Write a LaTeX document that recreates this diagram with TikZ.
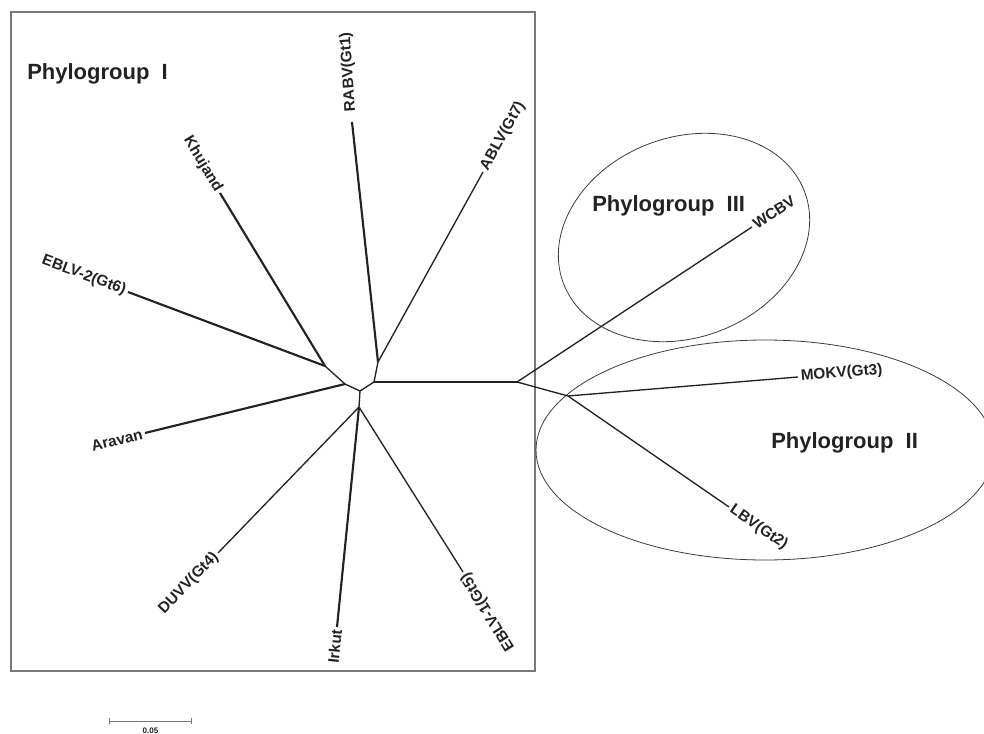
\documentclass[tikz,border=0pt]{standalone}
\usepackage{fontspec}
\setmainfont{Liberation Sans}
\usepackage{xcolor}
\usetikzlibrary{arrows.meta,calc}
\definecolor{treeink}{RGB}{34,34,34}
\definecolor{boxgray}{RGB}{120,120,120}
\definecolor{ringgray}{RGB}{60,60,60}

\tikzset{
  branch/.style={draw=treeink, line width=1pt},
  heavybranch/.style={draw=treeink, line width=1.6pt},
  taxon/.style={font=\bfseries\fontsize{11.5}{13}\selectfont, text=treeink, inner sep=2pt},
  grouplabel/.style={font=\bfseries\fontsize{16.5}{20}\selectfont, text=treeink, inner sep=0pt, anchor=base west},
}

\begin{document}
\begin{tikzpicture}[x=0.75pt,y=-0.75pt]
    \useasboundingbox (0,0) rectangle (984,734);

    % Phylogroup I frame
    \draw[boxgray, line width=1.1pt] (11,12) rectangle (535,671);

    % Phylogroup III and II rings
    \draw[ringgray, line width=0.6pt, rotate around={21:(684,237.5)}] (684,237.5) ellipse [x radius=129, y radius=100];
    \draw[ringgray, line width=0.6pt] (765,450) ellipse [x radius=229, y radius=110];

    % Inner nodes
    \coordinate (nA) at (374,382);
    \coordinate (nB) at (378,362);
    \coordinate (nC) at (360,391);
    \coordinate (nD) at (345,384);
    \coordinate (nE) at (325,366);
    \coordinate (nF) at (359,407);
    \coordinate (nR) at (517,382);
    \coordinate (nG) at (568,396);

    % Tips
    \coordinate (rabv) at (352,122);
    \coordinate (ablv) at (483,172);
    \coordinate (khuj) at (220,193);
    \coordinate (eblv2) at (128,292);
    \coordinate (arav) at (145,433);
    \coordinate (duvv) at (218,553);
    \coordinate (irk) at (337,627);
    \coordinate (eblv1) at (463,572);
    \coordinate (wcbv) at (752,227);
    \coordinate (mokv) at (798,377);
    \coordinate (lbv) at (729,507);

    % Internal branches
    \draw[branch] (nA) -- (nB);
    \draw[branch] (nA) -- (nC);
    \draw[branch] (nA) -- (nR);
    \draw[branch] (nC) -- (nD);
    \draw[branch] (nD) -- (nE);
    \draw[branch] (nC) -- (nF);
    \draw[branch] (nR) -- (nG);

    % Terminal branches
    \draw[heavybranch] (nB) -- (rabv);
    \draw[branch] (nB) -- (ablv);
    \draw[heavybranch] (nE) -- (khuj);
    \draw[heavybranch] (nE) -- (eblv2);
    \draw[heavybranch] (nD) -- (arav);
    \draw[branch] (nF) -- (duvv);
    \draw[heavybranch] (nF) -- (irk);
    \draw[branch] (nF) -- (eblv1);
    \draw[branch] (nR) -- (wcbv);
    \draw[branch] (nG) -- (mokv);
    \draw[branch] (nG) -- (lbv);

    % Tip labels
    \node[taxon, anchor=west, rotate=94, outer sep=6pt] (lrabv) at (rabv) {RABV(Gt1)};
    \node[taxon, anchor=west, rotate=61] (lablv) at (ablv) {ABLV(Gt7)};
    \node[taxon, anchor=east, rotate=-59] (lkhuj) at (khuj) {Khujand};
    \node[taxon, anchor=east, rotate=-20.6] (leblv2) at (eblv2) {EBLV-2(Gt6)};
    \node[taxon, anchor=east, rotate=14] (larav) at (arav) {Aravan};
    \node[taxon, anchor=east, rotate=46] (lduvv) at (duvv) {DUVV(Gt4)};
    \node[taxon, anchor=east, rotate=84] (lirk) at (irk) {Irkut};
    \node[taxon, anchor=east, rotate=122] (leblv1) at (eblv1) {EBLV-1(Gt5)};
    \node[taxon, anchor=west, rotate=33.4] (lwcbv) at (wcbv) {WCBV};
    \node[taxon, anchor=west, rotate=4.7] (lmokv) at (mokv) {MOKV(Gt3)};
    \node[taxon, anchor=west, rotate=-34.6] (llbv) at (lbv) {LBV(Gt2)};

    % Group labels
    \node[grouplabel] (grpI) at (27,80) {Phylogroup\ \ I};
    \node[grouplabel] (grpIII) at (592,212) {Phylogroup\ \ III};
    \node[grouplabel] (grpII) at (771,448) {Phylogroup\ \ II};

    % Scale bar
    \coordinate (sb0) at (109,721);
    \coordinate (sb1) at (192,721);
    \draw[boxgray, line width=0.75pt, {Bar[width=5pt]}-{Bar[width=5pt]}] (sb0) -- (sb1);
    \node[font=\bfseries\fontsize{6}{7}\selectfont, text=treeink, inner sep=0pt, anchor=north] (sblabel) at ($(sb0)!0.5!(sb1)+(0,7)$) {0.05};

\end{tikzpicture}
\end{document}
